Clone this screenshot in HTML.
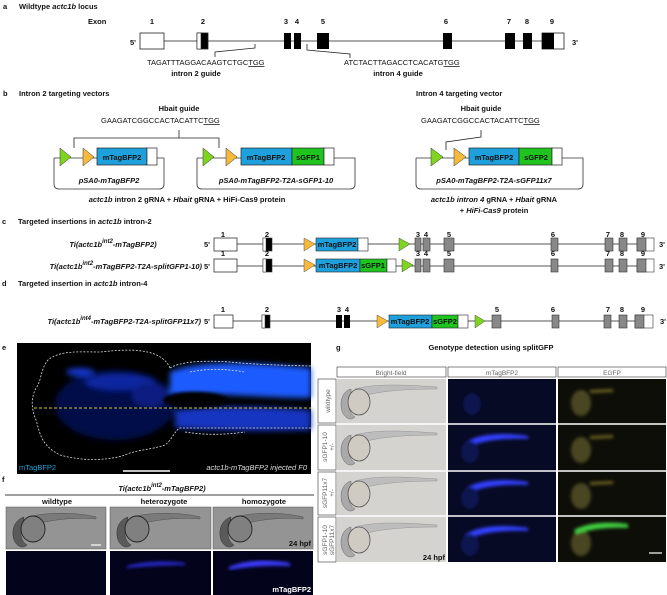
<!DOCTYPE html>
<html><head><meta charset="utf-8"><style>
html,body{margin:0;padding:0;background:#fff}
svg{display:block}
text{font-family:"Liberation Sans",Arial,sans-serif;font-size:7.5px;fill:#111}
.b{font-weight:bold}
.i{font-style:italic}
.hdr{font-size:6.5px;fill:#666}
</style></head><body>
<svg width="667" height="595" viewBox="0 0 667 595" xmlns="http://www.w3.org/2000/svg">
<defs>
<filter id="bl"><feGaussianBlur stdDeviation="3"/></filter>
<filter id="bl2"><feGaussianBlur stdDeviation="1.5"/></filter>
<g id="emb">
 <path d="M18,10 C40,4 70,6 100,8 L100,10 C70,10 45,12 30,16 Z" fill="#bdbdbd" stroke="#888" stroke-width="0.4"/>
 <path d="M14,10 C6,12 2,22 5,32 C8,40 14,42 18,38 C12,34 10,26 14,18 Z" fill="#a9a9a9" stroke="#666" stroke-width="0.5"/>
 <ellipse cx="22" cy="23" rx="11" ry="13" fill="#cfcac2" stroke="#555" stroke-width="0.8"/>
</g>
<g id="embf">
 <path d="M22,10 C45,4 75,6 90,10 L90,12 C75,10 50,12 35,16 Z" fill="#7a7a7a" stroke="#444" stroke-width="0.4"/>
 <path d="M18,10 C8,13 5,24 8,33 C11,40 17,42 21,38 C15,34 13,26 17,18 Z" fill="#5a5a5a" stroke="#333" stroke-width="0.5"/>
 <ellipse cx="27" cy="22" rx="12" ry="13" fill="#808080" stroke="#222" stroke-width="0.9"/>
</g>
</defs>

<!-- Panel a -->
<text x="3" y="9" class="b">a</text>
<text x="19" y="9" class="b">Wildtype <tspan class="i">actc1b</tspan> locus</text>
<text x="88" y="24" class="b">Exon</text>
<g text-anchor="middle">
<text x="152" y="24" class="b">1</text><text x="203" y="24" class="b">2</text><text x="286" y="24" class="b">3</text><text x="297" y="24" class="b">4</text><text x="323" y="24" class="b">5</text><text x="446" y="24" class="b">6</text><text x="509" y="24" class="b">7</text><text x="527" y="24" class="b">8</text><text x="552" y="24" class="b">9</text>
</g>
<text x="130" y="45" class="b">5'</text><text x="572" y="45" class="b">3'</text>
<line x1="164" y1="41" x2="542" y2="41" stroke="#555" stroke-width="1"/>
<rect x="140" y="33" width="24" height="16" fill="#fff" stroke="#222" stroke-width="0.8"/>
<rect x="197" y="33" width="11" height="16" fill="#000" stroke="#222" stroke-width="0.8"/><rect x="197" y="33" width="4" height="16" fill="#fff" stroke="#222" stroke-width="0.6"/>
<rect x="284" y="33" width="7" height="16" fill="#000"/><rect x="294" y="33" width="7" height="16" fill="#000"/>
<rect x="317" y="33" width="12" height="16" fill="#000"/><rect x="443" y="33" width="9" height="16" fill="#000"/>
<rect x="505" y="33" width="10" height="16" fill="#000"/><rect x="523" y="33" width="9" height="16" fill="#000"/>
<rect x="542" y="33" width="22" height="16" fill="#fff" stroke="#222" stroke-width="0.8"/><rect x="542" y="33" width="12" height="16" fill="#000"/>
<polyline points="215,57 215,52 255,48 255,44" fill="none" stroke="#222" stroke-width="0.8"/>
<polyline points="307,44 307,50 350,54 350,58" fill="none" stroke="#222" stroke-width="0.8"/>
<text x="147" y="65">TAGATTTAGGACAAGTCTGC<tspan text-decoration="underline">TGG</tspan></text>
<text x="196" y="76" text-anchor="middle" class="b">intron 2 guide</text>
<text x="344" y="65">ATCTACTTAGACCTCACATG<tspan text-decoration="underline">TGG</tspan></text>
<text x="398" y="76" text-anchor="middle" class="b">intron 4 guide</text>

<!-- Panel b -->
<text x="3" y="96" class="b">b</text>
<text x="19" y="96" class="b">Intron 2 targeting vectors</text>
<text x="416" y="96" class="b">Intron 4 targeting vector</text>
<text x="179" y="111" text-anchor="middle" class="b">Hbait guide</text>
<text x="101" y="123">GAAGATCGGCCACTACATTC<tspan text-decoration="underline">TGG</tspan></text>
<polyline points="74,148 74,138 219,138 219,148" fill="none" stroke="#222" stroke-width="0.8"/>
<line x1="179" y1="130" x2="179" y2="138" stroke="#222" stroke-width="0.8"/>
<text x="481" y="111" text-anchor="middle" class="b">Hbait guide</text>
<text x="421" y="123">GAAGATCGGCCACTACATTC<tspan text-decoration="underline">TGG</tspan></text>
<polyline points="481,130 481,137 446,142 446,150" fill="none" stroke="#222" stroke-width="0.8"/>

<path d="M54,158 L54,184 Q54,189 59,189 L159,189 Q164,189 164,184 L164,158 L157,158" fill="none" stroke="#333" stroke-width="0.8"/>
<line x1="54" y1="158" x2="97" y2="158" stroke="#333" stroke-width="0.8"/>
<polygon points="60,148 71,157 60,166" fill="#7fd321" stroke="#333" stroke-width="0.5"/>
<polygon points="83,148 94,157 83,166" fill="#f6b93b" stroke="#333" stroke-width="0.5"/>
<rect x="97" y="148" width="50" height="17" fill="#1ea0dc" stroke="#222" stroke-width="0.7"/>
<rect x="147" y="148" width="10" height="17" fill="#fff" stroke="#222" stroke-width="0.7"/>
<text x="122" y="160" text-anchor="middle" class="b">mTagBFP2</text>
<text x="109" y="183" text-anchor="middle" class="b i">pSA0-mTagBFP2</text>
<path d="M197,158 L197,184 Q197,189 202,189 L350,189 Q355,189 355,184 L355,158 L334,158" fill="none" stroke="#333" stroke-width="0.8"/>
<line x1="197" y1="158" x2="241" y2="158" stroke="#333" stroke-width="0.8"/>
<polygon points="203,148 214,157 203,166" fill="#7fd321" stroke="#333" stroke-width="0.5"/>
<polygon points="226,148 237,157 226,166" fill="#f6b93b" stroke="#333" stroke-width="0.5"/>
<rect x="241" y="148" width="51" height="17" fill="#1ea0dc" stroke="#222" stroke-width="0.7"/>
<rect x="292" y="148" width="32" height="17" fill="#1fc41f" stroke="#222" stroke-width="0.7"/>
<rect x="324" y="148" width="10" height="17" fill="#fff" stroke="#222" stroke-width="0.7"/>
<text x="266" y="160" text-anchor="middle" class="b">mTagBFP2</text>
<text x="308" y="160" text-anchor="middle" class="b">sGFP1</text>
<text x="276" y="183" text-anchor="middle" class="b i">pSA0-mTagBFP2-T2A-sGFP1-10</text>
<path d="M416,158 L416,184 Q416,189 421,189 L578,189 Q583,189 583,184 L583,158 L562,158" fill="none" stroke="#333" stroke-width="0.8"/>
<line x1="416" y1="158" x2="469" y2="158" stroke="#333" stroke-width="0.8"/>
<polygon points="431,148 443,157 431,166" fill="#7fd321" stroke="#333" stroke-width="0.5"/>
<polygon points="454,148 466,157 454,166" fill="#f6b93b" stroke="#333" stroke-width="0.5"/>
<rect x="469" y="148" width="50" height="17" fill="#1ea0dc" stroke="#222" stroke-width="0.7"/>
<rect x="519" y="148" width="33" height="17" fill="#1fc41f" stroke="#222" stroke-width="0.7"/>
<rect x="552" y="148" width="10" height="17" fill="#fff" stroke="#222" stroke-width="0.7"/>
<text x="494" y="160" text-anchor="middle" class="b">mTagBFP2</text>
<text x="536" y="160" text-anchor="middle" class="b">sGFP2</text>
<text x="494" y="183" text-anchor="middle" class="b i">pSA0-mTagBFP2-T2A-sGFP11x7</text>
<text x="187" y="202" text-anchor="middle" class="b"><tspan class="i">actc1b</tspan> intron 2 gRNA + <tspan class="i">Hbait</tspan> gRNA + HiFi-Cas9 protein</text>
<text x="494" y="202" text-anchor="middle" class="b i">actc1b intron 4 <tspan font-style="normal">gRNA +</tspan> Hbait <tspan font-style="normal">gRNA</tspan></text>
<text x="494" y="213" text-anchor="middle" class="b">+ <tspan class="i">HiFi-Cas9</tspan> protein</text>

<!-- Panel c -->
<text x="2" y="224" class="b">c</text>
<text x="18" y="224" class="b">Targeted insertions in <tspan class="i">actc1b</tspan> intron-2</text>
<text x="113" y="247" text-anchor="middle" class="b i">Ti(actc1b<tspan dy="-4" font-size="6">int2</tspan><tspan dy="4">-mTagBFP2)</tspan></text>
<g text-anchor="middle"><text x="223" y="237" class="b">1</text><text x="267" y="237" class="b">2</text><text x="418" y="237" class="b">3</text><text x="426" y="237" class="b">4</text><text x="449" y="237" class="b">5</text><text x="553" y="237" class="b">6</text><text x="608" y="237" class="b">7</text><text x="622" y="237" class="b">8</text><text x="643" y="237" class="b">9</text></g>
<text x="204" y="247" class="b">5'</text><text x="659" y="247" class="b">3'</text>
<line x1="237" y1="244" x2="637" y2="244" stroke="#555" stroke-width="1"/>
<rect x="214" y="238" width="23" height="13" fill="#fff" stroke="#333" stroke-width="0.8"/>
<rect x="263" y="238" width="9" height="13" fill="#000" stroke="#333" stroke-width="0.6"/><rect x="263" y="238" width="3" height="13" fill="#fff" stroke="#333" stroke-width="0.5"/>
<polygon points="304,238 315,244 304,251" fill="#f6b93b" stroke="#333" stroke-width="0.4"/>
<rect x="316" y="238" width="42" height="13" fill="#1ea0dc" stroke="#222" stroke-width="0.6"/><rect x="358" y="238" width="10" height="13" fill="#fff" stroke="#222" stroke-width="0.6"/>
<text x="337" y="247" text-anchor="middle" font-size="6.5" class="b">mTagBFP2</text>
<polygon points="399,238 410,244 399,251" fill="#7fd321" stroke="#333" stroke-width="0.4"/>
<g fill="#888" stroke="#333" stroke-width="0.6"><rect x="415" y="238" width="6" height="13"/><rect x="423" y="238" width="7" height="13"/><rect x="444" y="238" width="10" height="13"/><rect x="551" y="238" width="7" height="13"/><rect x="605" y="238" width="8" height="13"/><rect x="619" y="238" width="8" height="13"/></g>
<rect x="637" y="238" width="17" height="13" fill="#fff" stroke="#333" stroke-width="0.6"/><rect x="637" y="238" width="9" height="13" fill="#888" stroke="#333" stroke-width="0.6"/>
<text x="202" y="269" text-anchor="end" class="b i">Ti(actc1b<tspan dy="-4" font-size="6">int2</tspan><tspan dy="4">-mTagBFP2-T2A-splitGFP1-10)</tspan></text>
<g text-anchor="middle"><text x="223" y="256" class="b">1</text><text x="267" y="256" class="b">2</text><text x="418" y="256" class="b">3</text><text x="426" y="256" class="b">4</text><text x="449" y="256" class="b">5</text><text x="553" y="256" class="b">6</text><text x="608" y="256" class="b">7</text><text x="622" y="256" class="b">8</text><text x="643" y="256" class="b">9</text></g>
<text x="204" y="269" class="b">5'</text><text x="659" y="269" class="b">3'</text>
<line x1="237" y1="266" x2="637" y2="266" stroke="#555" stroke-width="1"/>
<rect x="214" y="259" width="23" height="13" fill="#fff" stroke="#333" stroke-width="0.8"/>
<rect x="263" y="259" width="9" height="13" fill="#000" stroke="#333" stroke-width="0.6"/><rect x="263" y="259" width="3" height="13" fill="#fff" stroke="#333" stroke-width="0.5"/>
<polygon points="304,259 315,265 304,272" fill="#f6b93b" stroke="#333" stroke-width="0.4"/>
<rect x="316" y="259" width="44" height="13" fill="#1ea0dc" stroke="#222" stroke-width="0.6"/><rect x="360" y="259" width="27" height="13" fill="#1fc41f" stroke="#222" stroke-width="0.6"/><rect x="387" y="259" width="9" height="13" fill="#fff" stroke="#222" stroke-width="0.6"/>
<text x="338" y="268" text-anchor="middle" font-size="6.5" class="b">mTagBFP2</text><text x="373" y="268" text-anchor="middle" font-size="6.5" class="b">sGFP1</text>
<polygon points="402,259 413,265 402,272" fill="#7fd321" stroke="#333" stroke-width="0.4"/>
<g fill="#888" stroke="#333" stroke-width="0.6"><rect x="415" y="259" width="6" height="13"/><rect x="423" y="259" width="7" height="13"/><rect x="444" y="259" width="10" height="13"/><rect x="551" y="259" width="7" height="13"/><rect x="605" y="259" width="8" height="13"/><rect x="619" y="259" width="8" height="13"/></g>
<rect x="637" y="259" width="17" height="13" fill="#fff" stroke="#333" stroke-width="0.6"/><rect x="637" y="259" width="9" height="13" fill="#888" stroke="#333" stroke-width="0.6"/>

<!-- Panel d -->
<text x="2" y="286" class="b">d</text>
<text x="18" y="286" class="b">Targeted insertion in <tspan class="i">actc1b</tspan> intron-4</text>
<text x="201" y="324" text-anchor="end" class="b i">Ti(actc1b<tspan dy="-4" font-size="6">int4</tspan><tspan dy="4">-mTagBFP2-T2A-splitGFP11x7)</tspan></text>
<g text-anchor="middle"><text x="223" y="312" class="b">1</text><text x="267" y="312" class="b">2</text><text x="339" y="312" class="b">3</text><text x="347" y="312" class="b">4</text><text x="497" y="312" class="b">5</text><text x="553" y="312" class="b">6</text><text x="608" y="312" class="b">7</text><text x="622" y="312" class="b">8</text><text x="643" y="312" class="b">9</text></g>
<text x="204" y="324" class="b">5'</text><text x="660" y="324" class="b">3'</text>
<line x1="233" y1="321" x2="637" y2="321" stroke="#555" stroke-width="1"/>
<rect x="214" y="315" width="19" height="13" fill="#fff" stroke="#333" stroke-width="0.8"/>
<rect x="262" y="315" width="8" height="13" fill="#000" stroke="#333" stroke-width="0.6"/><rect x="262" y="315" width="3" height="13" fill="#fff" stroke="#333" stroke-width="0.5"/>
<rect x="336" y="315" width="6" height="13" fill="#000"/><rect x="344" y="315" width="6" height="13" fill="#000"/>
<polygon points="377,315 388,321 377,328" fill="#f6b93b" stroke="#333" stroke-width="0.4"/>
<rect x="389" y="315" width="43" height="13" fill="#1ea0dc" stroke="#222" stroke-width="0.6"/><rect x="432" y="315" width="26" height="13" fill="#1fc41f" stroke="#222" stroke-width="0.6"/><rect x="458" y="315" width="10" height="13" fill="#fff" stroke="#222" stroke-width="0.6"/>
<text x="410" y="324" text-anchor="middle" font-size="6.5" class="b">mTagBFP2</text><text x="445" y="324" text-anchor="middle" font-size="6.5" class="b">sGFP2</text>
<polygon points="475,315 485,321 475,328" fill="#7fd321" stroke="#333" stroke-width="0.4"/>
<g fill="#888" stroke="#333" stroke-width="0.6"><rect x="492" y="315" width="9" height="13"/><rect x="552" y="315" width="7" height="13"/><rect x="604" y="315" width="7" height="13"/><rect x="619" y="315" width="8" height="13"/></g>
<rect x="635" y="315" width="18" height="13" fill="#fff" stroke="#333" stroke-width="0.6"/><rect x="635" y="315" width="9" height="13" fill="#888" stroke="#333" stroke-width="0.6"/>

<!-- Panel e -->
<text x="2" y="350" class="b">e</text>
<rect x="17" y="343" width="294" height="131" fill="#000"/>
<g filter="url(#bl)">
 <ellipse cx="115" cy="405" rx="60" ry="35" fill="#06104a"/>
 <path d="M170,372 C200,360 250,362 311,368 L311,398 C260,398 210,392 170,395 Z" fill="#1e5bff"/>
 <path d="M175,410 C220,405 270,406 311,410 L311,430 C260,432 210,430 175,428 Z" fill="#1236c0"/>
 <ellipse cx="120" cy="382" rx="35" ry="8" fill="#1026a0"/>
 <ellipse cx="80" cy="372" rx="14" ry="4" fill="#1838d0"/>
 <ellipse cx="150" cy="395" rx="18" ry="12" fill="#0c1c80"/>
</g>
<g fill="#000" filter="url(#bl2)"><ellipse cx="195" cy="400" rx="32" ry="8"/></g>
<g fill="none" stroke="#ddd" stroke-width="0.8" stroke-dasharray="2,1.5">
 <path d="M170,368 C160,345 120,350 100,352 C80,352 60,350 48,360 C40,370 42,380 36,388 C30,400 32,410 36,420 C40,432 40,445 60,455 C85,462 110,460 125,455 C135,450 150,450 165,445 C172,440 175,430 180,428 L311,428"/>
 <path d="M170,368 C180,362 200,360 230,362 C250,364 270,365 311,366"/>
 <path d="M190,372 C210,368 225,369 245,372"/>
 <path d="M185,432 C210,436 230,434 245,432"/>
</g>
<line x1="34" y1="408" x2="311" y2="408" stroke="#d8c21a" stroke-width="1" stroke-dasharray="3,2"/>
<text x="19" y="470" style="fill:#1ea0dc">mTagBFP2</text>
<line x1="123" y1="471" x2="170" y2="471" stroke="#fff" stroke-width="1.5"/>
<text x="307" y="470" text-anchor="end" class="i" style="fill:#ddd">actc1b-mTagBFP2 injected F0</text>

<!-- Panel f -->
<text x="2" y="482" class="b">f</text>
<text x="162" y="491" text-anchor="middle" class="b i">Ti(actc1b<tspan dy="-4" font-size="6">int2</tspan><tspan dy="4">-mTagBFP2)</tspan></text>
<line x1="5" y1="495" x2="314" y2="495" stroke="#000" stroke-width="0.8"/>
<text x="57" y="504" text-anchor="middle" class="b">wildtype</text>
<text x="164" y="504" text-anchor="middle" class="b">heterozygote</text>
<text x="264" y="504" text-anchor="middle" class="b">homozygote</text>
<g>
 <rect x="6" y="507" width="100" height="42" fill="#949494" stroke="#555" stroke-width="0.5"/>
 <rect x="110" y="507" width="101" height="42" fill="#949494" stroke="#555" stroke-width="0.5"/>
 <rect x="213" y="507" width="100" height="42" fill="#949494" stroke="#555" stroke-width="0.5"/>
 <use href="#embf" x="6" y="507"/><use href="#embf" x="110" y="507"/><use href="#embf" x="213" y="507"/>
 <line x1="91" y1="545" x2="101" y2="545" stroke="#fff" stroke-width="1.2"/>
 <text x="311" y="546" text-anchor="end" class="b">24 hpf</text>
 <rect x="6" y="551" width="100" height="44" fill="#03031c"/>
 <rect x="110" y="551" width="101" height="44" fill="#03031c"/>
 <rect x="213" y="551" width="100" height="44" fill="#03031c"/>
 <g filter="url(#bl2)"><path d="M127,566 C145,561 170,561 185,563 L185,565 C165,565 145,566 127,568Z" fill="#2a2ad8"/>
 <path d="M229,567 C250,558 275,560 290,563 L290,566 C270,565 250,566 229,570Z" fill="#3a3aff"/></g>
 <text x="311" y="592" text-anchor="end" class="b" style="fill:#fff">mTagBFP2</text>
</g>

<!-- Panel g -->
<text x="336" y="350" class="b">g</text>
<text x="491" y="350" text-anchor="middle" class="b">Genotype detection using splitGFP</text>
<g fill="#fff" stroke="#333" stroke-width="0.6">
 <rect x="337" y="367" width="109" height="10"/><rect x="448" y="367" width="108" height="10"/><rect x="558" y="367" width="108" height="10"/>
 <rect x="318" y="379" width="18" height="44"/><rect x="318" y="425" width="18" height="45"/><rect x="318" y="472" width="18" height="43"/><rect x="318" y="517" width="18" height="45"/>
</g>
<text x="391" y="375" text-anchor="middle" class="hdr">Bright-field</text>
<text x="502" y="375" text-anchor="middle" class="hdr">mTagBFP2</text>
<text x="612" y="375" text-anchor="middle" class="hdr">EGFP</text>
<g>
<text transform="translate(330,401) rotate(-90)" text-anchor="middle" class="hdr">wildtype</text>
<text transform="translate(327,447) rotate(-90)" text-anchor="middle" class="hdr">sGFP1-10</text>
<text transform="translate(334,447) rotate(-90)" text-anchor="middle" class="hdr">+/-</text>
<text transform="translate(327,493) rotate(-90)" text-anchor="middle" class="hdr">sGFP11x7</text>
<text transform="translate(334,493) rotate(-90)" text-anchor="middle" class="hdr">+/-</text>
<text transform="translate(327,540) rotate(-90)" text-anchor="middle" class="hdr">sGFP1-10</text>
<text transform="translate(334,540) rotate(-90)" text-anchor="middle" class="hdr">sGFP11x7</text>
</g>
<g>
 <rect x="337" y="379" width="109" height="183" fill="#d4d3d0"/>
 <line x1="337" y1="424" x2="446" y2="424" stroke="#fff" stroke-width="1.5"/><line x1="337" y1="471" x2="446" y2="471" stroke="#fff" stroke-width="1.5"/><line x1="337" y1="516" x2="446" y2="516" stroke="#fff" stroke-width="1.5"/>
 <use href="#emb" x="337" y="379"/><use href="#emb" x="337" y="425"/><use href="#emb" x="337" y="471"/><use href="#emb" x="337" y="517"/>
 <text x="445" y="560" text-anchor="end" class="b" font-size="7">24 hpf</text>
 <rect x="448" y="379" width="108" height="183" fill="#070a24"/>
 <rect x="558" y="379" width="108" height="183" fill="#0e0e08"/>
 <g stroke="#fff" stroke-width="1.5"><line x1="448" y1="424" x2="666" y2="424"/><line x1="448" y1="471" x2="666" y2="471"/><line x1="448" y1="516" x2="666" y2="516"/></g>
 <g filter="url(#bl2)">
  <ellipse cx="472" cy="404" rx="9" ry="11" fill="#0b1250"/>
  <path d="M465,443 C480,432 510,433 528,436 L528,439 C505,438 485,440 467,447Z" fill="#3240ff"/>
  <path d="M465,489 C480,478 510,479 528,482 L528,485 C505,484 485,486 467,493Z" fill="#3240ff"/>
  <path d="M465,535 C480,524 510,525 528,528 L528,531 C505,530 485,532 467,539Z" fill="#3240ff"/>
  <ellipse cx="470" cy="452" rx="9" ry="11" fill="#0b1250"/><ellipse cx="470" cy="498" rx="9" ry="11" fill="#0b1250"/><ellipse cx="470" cy="545" rx="9" ry="11" fill="#0b1250"/>
  <ellipse cx="581" cy="403" rx="10" ry="13" fill="#4a4620"/><ellipse cx="581" cy="450" rx="10" ry="13" fill="#4a4620"/><ellipse cx="581" cy="496" rx="10" ry="13" fill="#4a4620"/><ellipse cx="581" cy="543" rx="10" ry="13" fill="#4a4620"/>
  <path d="M590,390 L613,389 L613,392 L590,393Z" fill="#6a6220"/><path d="M590,436 L613,435 L613,438 L590,439Z" fill="#6a6220"/><path d="M590,482 L613,481 L613,484 L590,485Z" fill="#6a6220"/>
  <path d="M574,530 C590,521 615,522 628,524 L628,528 C610,527 590,529 576,534Z" fill="#3fcf3f"/>
 </g>
 <line x1="649" y1="553" x2="662" y2="553" stroke="#fff" stroke-width="1.2"/>
</g>
</svg>
</body></html>
